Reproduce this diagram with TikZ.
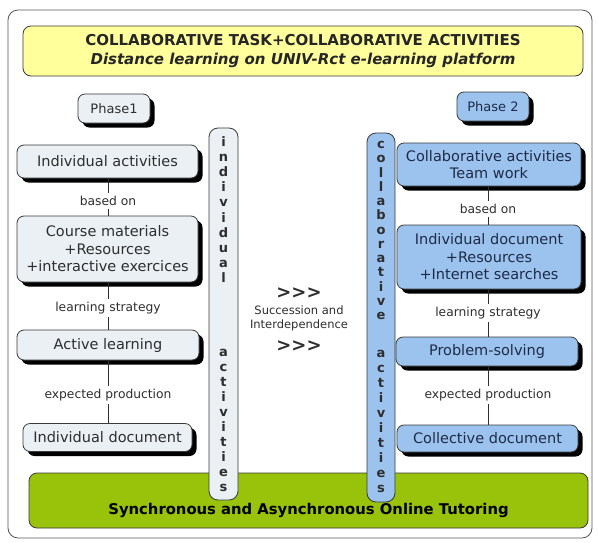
\documentclass[tikz,border=0pt]{standalone}
\usepackage{fontspec}
\setmainfont{DejaVu Sans}
\usetikzlibrary{shadows}
\definecolor{framegray}{HTML}{555555}
\definecolor{titleyellow}{HTML}{FFFF9C}
\definecolor{paleblue}{HTML}{EAF0F4}
\definecolor{skyblue}{HTML}{9CC3EE}
\definecolor{leafgreen}{HTML}{99C20A}
\definecolor{inkgray}{HTML}{2E2E2E}
\definecolor{inknavy}{HTML}{1E2B48}
\definecolor{edgegray}{HTML}{3A3A3A}
% three chevrons kept apart so the font mapping does not turn them into guillemets
\newcommand{\chevrons}{>\kern0pt>\kern0pt>}
\begin{document}
\begin{tikzpicture}[x=1pt,y=-1pt,
  shadowed/.style={drop shadow={shadow xshift=4.5pt,shadow yshift=-4.5pt,opacity=1,fill=black}},
  card/.style={draw=edgegray,line width=0.8pt,rounded corners=7pt,align=center,
    inner sep=0pt,shadowed,font=\fontsize{14.5}{17.5}\selectfont},
  leftcard/.style={card,fill=paleblue,text=inkgray},
  rightcard/.style={card,fill=skyblue,text=inknavy},
  phasecard/.style={card,font=\fontsize{13}{14}\selectfont,minimum width=72pt,minimum height=29pt},
  link/.style={font=\fontsize{12.3}{14}\selectfont,text=inkgray,inner sep=3pt},
  bar/.style={draw=edgegray,line width=0.8pt,rounded corners=9pt,inner sep=0pt},
  letter/.style={anchor=base,inner sep=0pt,font=\bfseries\fontsize{13}{13}\selectfont,text=inkgray},
  wire/.style={draw=inkgray,line width=0.8pt}]
\useasboundingbox (0,0) rectangle (598,542);

% outer frame
\node[draw=framegray,line width=0.8pt,rounded corners=10pt,fill=white,
  minimum width=584pt,minimum height=528pt,inner sep=0pt] (frame) at (300,274) {};

% title banner
\node[draw=edgegray,line width=0.8pt,rounded corners=8pt,fill=titleyellow,
  minimum width=560pt,minimum height=50pt,inner sep=0pt,align=center,
  font=\fontsize{15}{19}\selectfont,text=black!85] (title) at (303,51)
  {\bfseries COLLABORATIVE TASK+COLLABORATIVE ACTIVITIES\\
   \bfseries\itshape Distance learning on UNIV-Rct e-learning platform};

% tutoring band
\node[draw=edgegray,line width=0.8pt,rounded corners=8pt,fill=leafgreen,
  minimum width=559pt,minimum height=55pt,inner sep=0pt] (band) at (308.5,500.5) {};
\node[font=\bfseries\fontsize{14.8}{16}\selectfont,text=black] (bandtext) at (308.5,510)
  {Synchronous and Asynchronous Online Tutoring};

% vertical activity bars
\node[bar,fill=paleblue,minimum width=29pt,minimum height=372pt] (lbar) at (223.5,314) {};
\node[bar,fill=skyblue,minimum width=28pt,minimum height=369pt] (rbar) at (381,317.5) {};
\foreach \c [count=\k] in {i,n,d,i,v,i,d,u,a,l}
  \node[letter] (la\k) at (223.5,{146.5+15.1*(\k-1)}) {\c};
\foreach \c [count=\k] in {a,c,t,i,v,i,t,i,e,s}
  \node[letter] (lb\k) at (223.5,{356.5+15*(\k-1)}) {\c};
\foreach \c [count=\k] in {c,o,l,l,a,b,o,r,a,t,i,v,e}
  \node[letter] (ra\k) at (381,{148.5+14.25*(\k-1)}) {\c};
\foreach \c [count=\k] in {a,c,t,i,v,i,t,i,e,s}
  \node[letter] (rb\k) at (381,{357.5+15*(\k-1)}) {\c};

% phase tags
\node[phasecard,fill=paleblue,text=inkgray] (ph1) at (114,108.5) {Phase1};
\node[phasecard,fill=skyblue,text=inknavy] (ph2) at (493,106.5) {Phase 2};

% phase 1 column
\node[leftcard,minimum width=181pt,minimum height=33pt] (act1) at (107.5,161.5) {Individual activities};
\node[leftcard,minimum width=181pt,minimum height=66pt] (mat1) at (107.5,249)
  {Course materials\\+Resources\\+interactive exercices};
\node[leftcard,minimum width=182pt,minimum height=30pt] (act2) at (108,345) {Active learning};
\node[leftcard,minimum width=169pt,minimum height=28pt] (doc1) at (107.5,437.5) {Individual document};
\node[link] (lk1) at (108,201) {based on};
\node[link] (lk2) at (108,308) {learning strategy};
\node[link] (lk3) at (108,395) {expected production};
\draw[wire] (act1.south -| lk1) -- (lk1.north);
\draw[wire] (lk1.south) -- (mat1.north -| lk1);
\draw[wire] (mat1.south -| lk2) -- (lk2.north);
\draw[wire] (lk2.south) -- (act2.north -| lk2);
\draw[wire] (act2.south -| lk3) -- (lk3.north);
\draw[wire] (lk3.south) -- (doc1.north -| lk3);

% phase 2 column
\node[rightcard,minimum width=184pt,minimum height=43pt] (col2) at (489,164.5)
  {Collaborative activities\\Team work};
\node[rightcard,minimum width=184pt,minimum height=64pt] (ind2) at (489,257)
  {Individual document\\+Resources\\+Internet searches};
\node[rightcard,minimum width=182pt,minimum height=29pt] (prob2) at (487,351.5) {Problem-solving};
\node[rightcard,minimum width=181pt,minimum height=27pt] (coll2) at (487.5,438.5) {Collective document};
\node[link] (lk4) at (488,209) {based on};
\node[link] (lk5) at (488,313) {learning strategy};
\node[link] (lk6) at (488,395) {expected production};
\draw[wire] (col2.south -| lk4) -- (lk4.north);
\draw[wire] (lk4.south) -- (ind2.north -| lk4);
\draw[wire] (ind2.south -| lk5) -- (lk5.north);
\draw[wire] (lk5.south) -- (prob2.north -| lk5);
\draw[wire] (prob2.south -| lk6) -- (lk6.north);
\draw[wire] (lk6.south) -- (coll2.north -| lk6);

% transition between the phases
\node[font=\bfseries\fontsize{18}{18}\selectfont,text=inkgray] (go1) at (299,293) {\chevrons};
\node[align=center,font=\fontsize{11.5}{14}\selectfont,text=inkgray] (succ) at (299,318)
  {Succession and\\Interdependence};
\node[font=\bfseries\fontsize{18}{18}\selectfont,text=inkgray] (go2) at (299,346) {\chevrons};
\end{tikzpicture}
\end{document}
